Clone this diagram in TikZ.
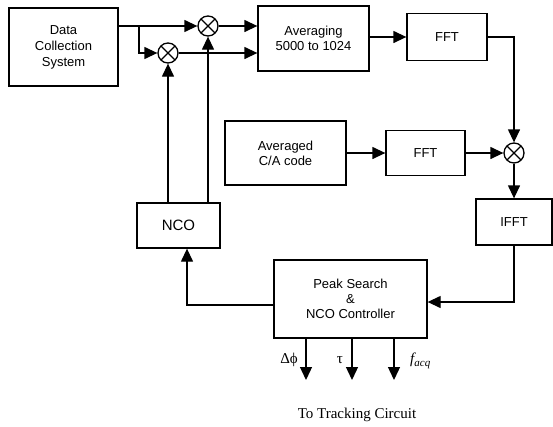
\documentclass[tikz,border=0pt]{standalone}
\usepackage{fontspec}
\setmainfont{Liberation Sans}
\newfontfamily\serifx{Liberation Serif}
\usetikzlibrary{arrows.meta}
\begin{document}
\begin{tikzpicture}[x=1pt,y=-1pt,
  blk/.style={draw,line width=1.3pt,inner sep=0pt,align=center,font=\fontsize{13}{15}\selectfont},
  mixer/.style={draw,circle,line width=1.3pt,minimum size=20pt,inner sep=0pt,
    path picture={\draw[line width=1.2pt] (path picture bounding box.north west) -- (path picture bounding box.south east)
      (path picture bounding box.north east) -- (path picture bounding box.south west);}},
  arr/.style={line width=1.3pt,-{Triangle[length=13pt,width=12pt]}},
  lbl/.style={font=\serifx\fontsize{15}{17}\selectfont,inner sep=0pt}]
\useasboundingbox (0,0) rectangle (553,426);
\node[blk,minimum width=109pt,minimum height=78pt,font=\fontsize{13}{16}\selectfont] (data) at (63.5,47) {Data\\Collection\\System};
\node[mixer] (mix1) at (208,26) {};
\node[mixer] (mix2) at (168,53) {};
\node[blk,minimum width=111pt,minimum height=65pt] (avg) at (313.5,38.5) {Averaging\\5000 to 1024};
\node[blk,minimum width=80pt,minimum height=47pt] (fft1) at (447,37) {FFT};
\node[blk,minimum width=121pt,minimum height=64pt] (ca) at (285.5,153) {Averaged\\C/A code};
\node[blk,minimum width=79pt,minimum height=45pt] (fft2) at (425.5,153) {FFT};
\node[mixer] (mix3) at (514,153) {};
\node[blk,minimum width=76pt,minimum height=46pt] (ifft) at (514,222) {IFFT};
\node[blk,minimum width=153pt,minimum height=78pt] (peak) at (350.5,299) {Peak Search\\\&\\NCO Controller};
\node[blk,minimum width=83pt,minimum height=45pt,font=\fontsize{15}{17}\selectfont] (nco) at (178.5,225.5) {NCO};
\coordinate (br) at (139,26);
\coordinate (d1) at (306,380);
\coordinate (d2) at (352,380);
\coordinate (d3) at (394,380);
% connectors
\draw[arr] (data.east |- mix1) -- (mix1);
\draw[arr] (br) |- (mix2);
\draw[arr] (mix1) -- (avg.west |- mix1);
\draw[arr] (mix2) -- (avg.west |- mix2);
\draw[arr] (avg.east |- fft1) -- (fft1.west);
\draw[arr] (fft1.east) -| (mix3);
\draw[arr] (ca.east) -- (fft2.west);
\draw[arr] (fft2.east) -- (mix3);
\draw[arr] (mix3) -- (ifft.north);
\draw[arr] (ifft.south) |- ([yshift=-3pt]peak.east);
\draw[arr] ([yshift=-6pt]peak.west) -| ([xshift=8.5pt]nco.south);
\draw[arr] (nco.north -| mix2) -- (mix2);
\draw[arr] (nco.north -| mix1) -- (mix1);
\draw[arr] (peak.south -| d1) -- (d1);
\draw[arr] (peak.south -| d2) -- (d2);
\draw[arr] (peak.south -| d3) -- (d3);
% labels
\node[lbl,anchor=east] (l1) at (298,360) {Δϕ};
\node[lbl] (l2) at (340,360) {τ};
\node[lbl,anchor=west] (l3) at (410,361) {\itshape f\raisebox{-3pt}{\fontsize{11}{12}\selectfont acq}};
\node[lbl] (tt) at (357,415) {To Tracking Circuit};
\end{tikzpicture}
\end{document}
